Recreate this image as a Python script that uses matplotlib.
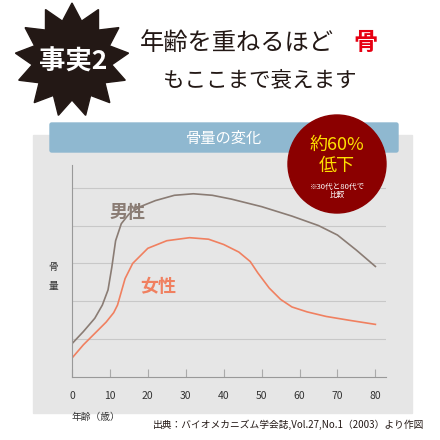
import numpy as np
import matplotlib
matplotlib.use("Agg")
import matplotlib.pyplot as plt
from matplotlib.patches import Rectangle, Circle, Polygon, FancyBboxPatch

plt.rcParams['font.family'] = ['Noto Sans CJK JP', 'DejaVu Sans']

male_age = [0, 3, 6, 8, 9.5, 10.5, 11.5, 13, 15, 18, 22, 27, 32, 37, 42, 50, 58, 65, 70, 75, 80]
male_val = [0.88, 1.2, 1.55, 1.9, 2.3, 2.9, 3.6, 4.05, 4.3, 4.5, 4.66, 4.8, 4.84, 4.8, 4.7, 4.5, 4.25, 4.0, 3.75, 3.35, 2.92]
female_age = [0, 3, 6, 9, 11, 12, 13, 14, 16, 20, 25, 31, 36, 40, 44, 47, 49, 52, 55, 58, 62, 67, 73, 80]
female_val = [0.5, 0.85, 1.15, 1.45, 1.7, 1.9, 2.25, 2.6, 3.0, 3.4, 3.6, 3.68, 3.64, 3.5, 3.3, 3.05, 2.75, 2.35, 2.05, 1.85, 1.72, 1.6, 1.5, 1.39]
x_ticks = [0, 10, 20, 30, 40, 50, 60, 70, 80]

fig = plt.figure(figsize=(4.4, 4.4), dpi=100)
W = H = 440.0
def fx(p): return p / W
def fy(p): return 1 - p / H

# background panel
fig.patches.append(Rectangle((fx(33), fy(413)), (412-33)/W, (413-135)/H, transform=fig.transFigure, color='#e6e6e6', zorder=-2))
fig.patches.append(FancyBboxPatch((fx(50), fy(152)), (398-50)/W, 29/H, boxstyle='round,pad=0,rounding_size=0.004', transform=fig.transFigure, color='#8fb8d0', zorder=1))
fig.text(fx(224), fy(138), '骨量の変化', color='white', fontsize=11, ha='center', va='center', zorder=2)

# starburst
cx, cy = 72, 60
n = 13
pts = []
for i in range(2*n):
    r = 57 if i % 2 == 0 else 40
    a = np.pi/2 + i*np.pi/n
    pts.append((fx(cx + r*np.cos(a)), fy(cy - r*np.sin(a))))
fig.patches.append(Polygon(pts, closed=True, transform=fig.transFigure, color='#231815', zorder=1))
fig.text(fx(73), fy(62), '事実2', color='white', fontsize=19, fontweight='bold', ha='center', va='center', zorder=2)
fig.text(fx(140), fy(43), '年齢を重ねるほど', color='#231815', fontsize=17.5, ha='left', va='center')
fig.text(fx(353), fy(43), '骨', color='#e60012', fontsize=17.5, fontweight='bold', ha='left', va='center')
fig.text(fx(260), fy(81), 'もここまで衰えます', color='#231815', fontsize=15.5, ha='center', va='center')

ax = fig.add_axes([fx(72), fy(377), (386-72)/W, (377-165)/H])
ax.set_zorder(3)
ax.set_facecolor('none')
ax.plot(male_age, male_val, color='#8a7c74', lw=1.2)
ax.plot(female_age, female_val, color='#f08060', lw=1.2)
ax.set_xlim(0, 82.8)
ax.set_ylim(0, 5.6)
for g in range(1, 6):
    ax.axhline(g, color='#c8c8c8', lw=0.8, zorder=0)
ax.set_xticks(x_ticks)
ax.set_xticklabels([str(t) for t in x_ticks], fontsize=7.5, color='#333333')
ax.tick_params(axis='x', direction='in', length=6, color='#aaaaaa', pad=10)
ax.set_yticks([])
for s in ['top', 'right']:
    ax.spines[s].set_visible(False)
for s in ['left', 'bottom']:
    ax.spines[s].set_color('#999999')
ax.text(0, -1.05, '年齢（歳）', fontsize=7, color='#333333', ha='left', va='center')
ax.text(-5, 2.65, '骨\n\n量', fontsize=7, color='#333333', ha='center', va='center', linespacing=0.9)
ax.text(10, 4.35, '男性', fontsize=13, fontweight='bold', color='#8a7c74', va='center')
ax.text(18, 2.4, '女性', fontsize=13, fontweight='bold', color='#f08060', va='center')

# red circle (own axes above the chart)
cax = fig.add_axes([0, 0, 1, 1])
cax.set_zorder(5)
cax.set_axis_off()
cax.set_xlim(0, 1); cax.set_ylim(0, 1)
cax.add_patch(Circle((fx(337), fy(164)), 49/W, color='#8b0000'))
cax.text(fx(337), fy(145), '約60%', color='#ffe000', fontsize=13, ha='center', va='center')
cax.text(fx(337), fy(166), '低下', color='#ffe000', fontsize=13, ha='center', va='center')
cax.text(fx(337), fy(191), '※30代と80代で\n比較', color='white', fontsize=5.5, ha='center', va='center', linespacing=1.1)

fig.text(fx(424), fy(425), '出典：バイオメカニズム学会誌,Vol.27,No.1（2003）より作図', fontsize=7, color='#231815', ha='right', va='center')

fig.savefig('out.png', dpi=100)
